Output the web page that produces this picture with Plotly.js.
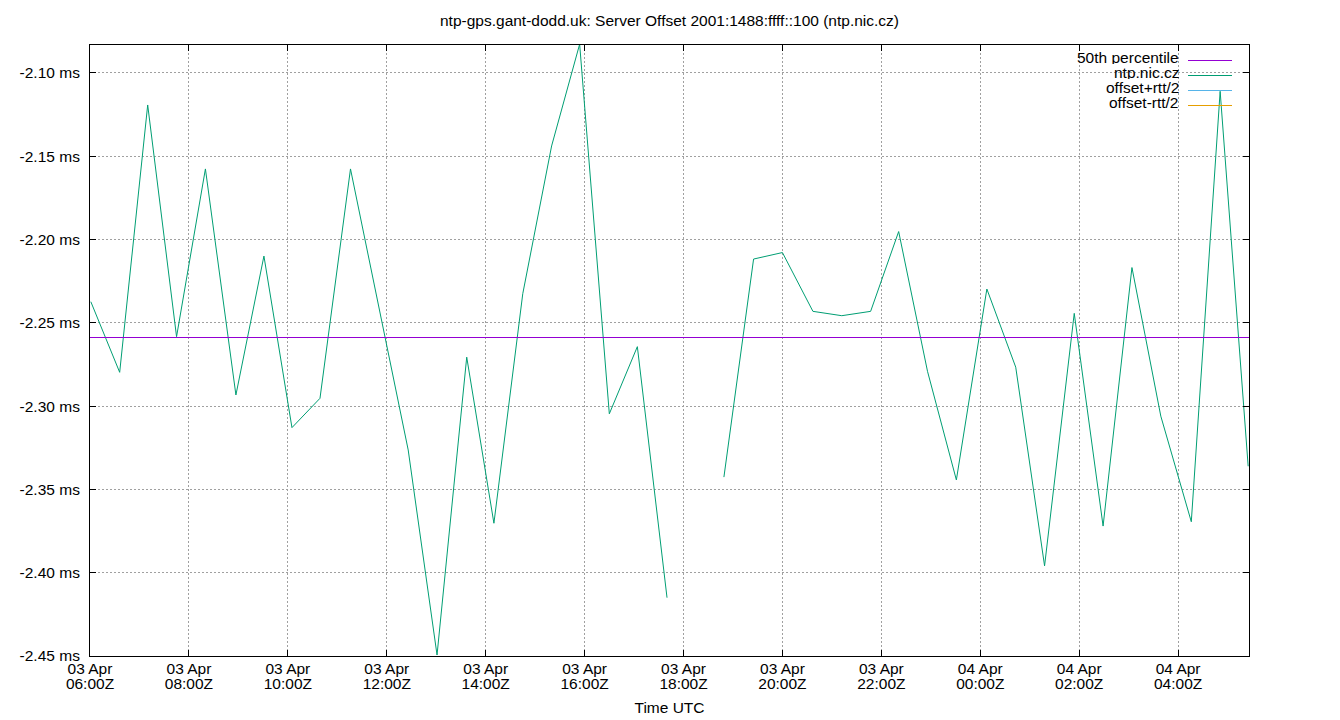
<!DOCTYPE html>
<html>
<head>
<meta charset="utf-8">
<script src="https://cdn.plot.ly/plotly-3.0.1.min.js"></script>
<style>
  html, body { margin: 0; padding: 0; background: #fff; }
  #chart { width: 1340px; height: 720px; }
</style>
</head>
<body>
<div id="chart"></div>
<script>
// ---- data ----
const offsetTimes = [
  "2025-04-03 06:01", "2025-04-03 06:36", "2025-04-03 07:10", "2025-04-03 07:45",
  "2025-04-03 08:20", "2025-04-03 08:57", "2025-04-03 09:31", "2025-04-03 10:05",
  "2025-04-03 10:39", "2025-04-03 11:16", "2025-04-03 12:26", "2025-04-03 13:01",
  "2025-04-03 13:37", "2025-04-03 14:10", "2025-04-03 14:45", "2025-04-03 15:20",
  "2025-04-03 15:54", "2025-04-03 16:30", "2025-04-03 17:04", "2025-04-03 17:40",
  "2025-04-03 18:14",
  "2025-04-03 18:49", "2025-04-03 19:25", "2025-04-03 20:00", "2025-04-03 20:37",
  "2025-04-03 21:12", "2025-04-03 21:47", "2025-04-03 22:21", "2025-04-03 22:56",
  "2025-04-03 23:31", "2025-04-04 00:08", "2025-04-04 00:43", "2025-04-04 01:18",
  "2025-04-04 01:54", "2025-04-04 02:29", "2025-04-04 03:04", "2025-04-04 03:39",
  "2025-04-04 04:16", "2025-04-04 04:51", "2025-04-04 05:25"
];
const offsetValues = [
  -2.2373, -2.2797, -2.1192, -2.2583,
  -2.1576, -2.2933, -2.2099, -2.3129,
  -2.2953, -2.1576, -2.3263, -2.4494,
  -2.2706, -2.3703, -2.2325, -2.1438,
  -2.0827, -2.3046, -2.2643, -2.4150,
  null,
  -2.3426, -2.2117, -2.2078, -2.2431,
  -2.2457, -2.2431, -2.1952, -2.2791,
  -2.3443, -2.2297, -2.2766, -2.3959,
  -2.2443, -2.3720, -2.2168, -2.3060,
  -2.3694, -2.1110, -2.3361
];
const medianValue = -2.2588;

const xRange = ["2025-04-03 06:00", "2025-04-04 05:26"];
const yRange = [-2.45, -2.0832];

const xTickVals = [
  "2025-04-03 06:00", "2025-04-03 08:00", "2025-04-03 10:00", "2025-04-03 12:00",
  "2025-04-03 14:00", "2025-04-03 16:00", "2025-04-03 18:00", "2025-04-03 20:00",
  "2025-04-03 22:00", "2025-04-04 00:00", "2025-04-04 02:00", "2025-04-04 04:00"
];
const xTickDays = [
  "03 Apr", "03 Apr", "03 Apr", "03 Apr", "03 Apr", "03 Apr",
  "03 Apr", "03 Apr", "03 Apr", "04 Apr", "04 Apr", "04 Apr"
];
const xTickHours = [
  "06:00Z", "08:00Z", "10:00Z", "12:00Z", "14:00Z", "16:00Z",
  "18:00Z", "20:00Z", "22:00Z", "00:00Z", "02:00Z", "04:00Z"
];
const yTickVals = [-2.45, -2.40, -2.35, -2.30, -2.25, -2.20, -2.15, -2.10];
const yTickText = ["-2.45 ms", "-2.40 ms", "-2.35 ms", "-2.30 ms", "-2.25 ms", "-2.20 ms", "-2.15 ms", "-2.10 ms"];

const legendLabels = ["50th percentile", "ntp.nic.cz", "offset+rtt/2", "offset-rtt/2"];
const legendColors = ["#9400D3", "#009E73", "#56B4E9", "#E69F00"];

const titleText = "ntp-gps.gant-dodd.uk: Server Offset 2001:1488:ffff::100 (ntp.nic.cz)";
const xTitleText = "Time UTC";

// ---- layout geometry ----
const W = 1340, H = 720;
const M = { l: 90, r: 91, t: 45, b: 64 };
const PW = W - M.l - M.r, PH = H - M.t - M.b;
const px2x = p => (p - M.l) / PW;
const py2y = p => (H - M.b - p) / PH;
const FONT = "Liberation Sans, Arial, sans-serif";
const FS = 15.5;
const tf = { family: FONT, size: FS, color: "#000" };

const traces = [
  {
    x: xRange, y: [medianValue, medianValue], xaxis: "x2",
    type: "scatter", mode: "lines", name: legendLabels[0],
    line: { color: legendColors[0], width: 1 }, hoverinfo: "skip"
  },
  {
    x: offsetTimes, y: offsetValues,
    type: "scatter", mode: "lines", name: legendLabels[1],
    connectgaps: false,
    line: { color: legendColors[1], width: 1 }
  },
  { x: [], y: [], type: "scatter", mode: "lines", name: legendLabels[2], line: { color: legendColors[2], width: 1 } },
  { x: [], y: [], type: "scatter", mode: "lines", name: legendLabels[3], line: { color: legendColors[3], width: 1 } }
];

const legendRowY = [60, 75, 90, 105];
const annotations = [];
const shapes = [
  // key box background hides the grid
  { type: "rect", xref: "paper", yref: "paper", layer: "between",
    x0: px2x(1045), x1: px2x(1242), y0: py2y(114), y1: 1,
    fillcolor: "#ffffff", line: { width: 0 } }
];
legendLabels.forEach((lab, i) => {
  annotations.push({
    xref: "paper", yref: "paper", x: px2x(1180), y: py2y(legendRowY[i] - 3),
    xanchor: "right", yanchor: "middle", showarrow: false, text: lab,
    height: 14, valign: "middle", borderpad: 0,
    font: tf
  });
  shapes.push({
    type: "line", xref: "paper", yref: "paper", layer: "above",
    x0: px2x(1188), x1: px2x(1232), y0: py2y(legendRowY[i] + 0.5), y1: py2y(legendRowY[i] + 0.5),
    line: { color: legendColors[i], width: 1 }
  });
});

const layout = {
  width: W, height: H,
  margin: M,
  paper_bgcolor: "#fff", plot_bgcolor: "#fff",
  showlegend: false,
  font: tf,
  title: { text: titleText, x: 0.5, xref: "paper", y: 1 - 21 / H, yanchor: "middle", font: tf },
  xaxis: {
    type: "date", range: xRange,
    tickmode: "array", tickvals: xTickVals, ticktext: xTickDays,
    ticks: "inside", ticklen: 6, tickcolor: "#000", tickwidth: 1,
    showline: true, linecolor: "#000", linewidth: 1, mirror: "ticks",
    showgrid: true, gridcolor: "#a0a0a0", griddash: "2px,2px", gridwidth: 1,
    zeroline: false,
    ticklabelstandoff: -2,
    tickfont: tf
  },
  xaxis2: {
    type: "date", range: xRange, overlaying: "x", matches: "x", anchor: "y", side: "bottom",
    tickmode: "array", tickvals: xTickVals, ticktext: xTickHours,
    ticks: "", showline: false, showgrid: false, zeroline: false,
    ticklabelstandoff: 16,
    tickfont: tf,
    title: { text: xTitleText, standoff: 11, font: tf }
  },
  yaxis: {
    range: yRange,
    tickmode: "array", tickvals: yTickVals, ticktext: yTickText,
    ticks: "inside", ticklen: 6, tickcolor: "#000", tickwidth: 1,
    showline: true, linecolor: "#000", linewidth: 1, mirror: "ticks",
    showgrid: true, gridcolor: "#a0a0a0", griddash: "2px,2px", gridwidth: 1,
    zeroline: false,
    ticklabelstandoff: 6,
    tickfont: tf
  },
  annotations: annotations,
  shapes: shapes
};

Plotly.newPlot("chart", traces, layout, { staticPlot: true, displayModeBar: false });
</script>
</body>
</html>
